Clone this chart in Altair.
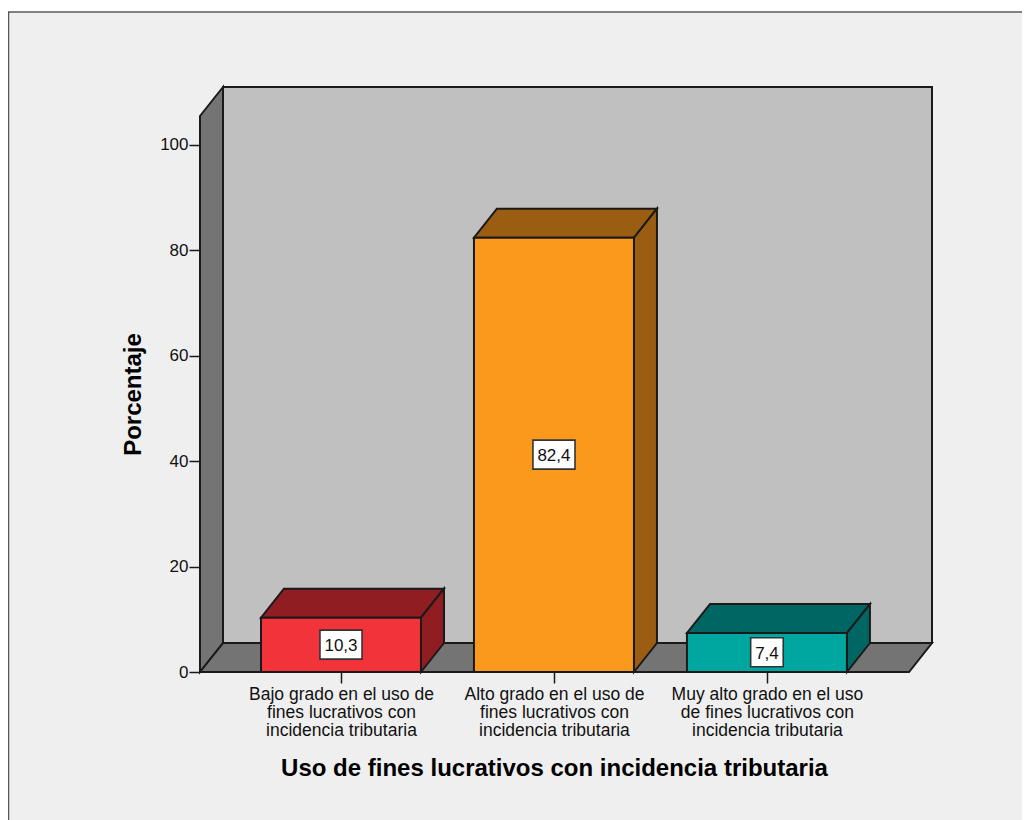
import json
import altair as alt
import pandas as pd

# --- chart values ---
categories = [
    "Bajo grado en el uso de|fines lucrativos con|incidencia tributaria",
    "Alto grado en el uso de|fines lucrativos con|incidencia tributaria",
    "Muy alto grado en el uso|de fines lucrativos con|incidencia tributaria",
]
positions = [1, 2, 3]
values = [10.3, 82.4, 7.4]
value_labels = ["10,3", "82,4", "7,4"]
front_colors = ["#f2343a", "#fb991c", "#00a6a0"]
dark_colors = ["#8f1d21", "#9a5d11", "#006664"]
y_ticks = [0, 20, 40, 60, 80, 100]

# --- 3D geometry, in data units ---
X_MIN, X_MAX = 0.338, 3.775
Y_MAX = 111.0
DEPTH_X, DEPTH_Y = 0.108, 5.5
HALF_BAR = 0.3756
WALL_TOP = Y_MAX - DEPTH_Y
FLOOR_RIGHT = X_MAX - DEPTH_X
LINE = "#1a1a1a"
LW = 2
FONT = "Liberation Sans"

x_scale = alt.Scale(domain=[X_MIN, X_MAX], nice=False, zero=False)
y_scale = alt.Scale(domain=[0, Y_MAX], nice=False, zero=False)

label_js = json.dumps(categories)
x_axis = alt.Axis(
    values=positions, grid=False, domain=False, tickColor=LINE, tickWidth=1.5, tickSize=11,
    labelExpr=f"split({label_js}[datum.value-1],'|')", labelFont=FONT, labelFontSize=17.5,
    labelColor="#111", labelLineHeight=18, labelPadding=2, labelAngle=0, labelBaseline="top",
    labelLimit=400, labelOverlap=False, labelFlush=False,
    title="Uso de fines lucrativos con incidencia tributaria", titleFont=FONT, titleFontSize=24,
    titleFontWeight="bold", titleColor="#000", titleX=354, titleY=96, titleAnchor="middle",
    titleBaseline="middle",
)
y_axis = alt.Axis(
    values=y_ticks, grid=False, domain=False, tickColor=LINE, tickWidth=1.5, tickSize=11,
    labelFont=FONT, labelFontSize=17, labelColor="#111", labelPadding=1,
    title="Porcentaje", titleFont=FONT, titleFontSize=24, titleFontWeight="bold",
    titleColor="#000", titleX=-67, titleY=307, titleAnchor="middle", titleBaseline="middle",
)
X = lambda f="x": alt.X(f"{f}:Q", scale=x_scale, axis=x_axis)
Y = lambda f="y": alt.Y(f"{f}:Q", scale=y_scale, axis=y_axis)

# page backdrop
page_top = alt.Chart().mark_rect(fill="white").encode(
    x=alt.value(-200), x2=alt.value(840), y=alt.value(-80), y2=alt.value(-75))
border_top = alt.Chart().mark_rule(stroke="#808080", strokeWidth=2).encode(
    x=alt.value(-192), x2=alt.value(840), y=alt.value(-75))
border_left = alt.Chart().mark_rule(stroke="#555555", strokeWidth=1.5).encode(
    x=alt.value(-191.5), y=alt.value(-75), y2=alt.value(740))

# back wall
back = alt.Chart(pd.DataFrame({"x": [X_MIN + DEPTH_X], "x2": [X_MAX], "y": [DEPTH_Y], "y2": [Y_MAX]})).mark_rect(
    fill="#c0c0c0", stroke=LINE, strokeWidth=LW
).encode(x=X(), x2="x2:Q", y=Y(), y2="y2:Q")

# left wall
left = alt.Chart(pd.DataFrame({"x": [X_MIN, X_MIN + DEPTH_X], "y": [0, DEPTH_Y], "y2": [WALL_TOP, Y_MAX]})).mark_area(
    fill="#747474", stroke=LINE, strokeWidth=LW, opacity=1
).encode(x=X(), y=Y(), y2="y2:Q")

# floor
floor = alt.Chart(pd.DataFrame({"y": [0, DEPTH_Y], "x": [X_MIN, X_MIN + DEPTH_X],
                                "x2": [FLOOR_RIGHT, X_MAX]})).mark_area(
    fill="#747474", stroke=LINE, strokeWidth=LW, orient="horizontal", opacity=1
).encode(y=Y(), x=X(), x2="x2:Q")

# bars: front, top and side faces
front_rows, top_rows, side_rows, box_rows = [], [], [], []
for p, v, t, fc, dc in zip(positions, values, value_labels, front_colors, dark_colors):
    front_rows.append(dict(x=p - HALF_BAR, x2=p + HALF_BAR, y=0, y2=v, c=fc))
    top_rows += [dict(k=p, y=v, x=p - HALF_BAR, x2=p + HALF_BAR, c=dc),
                 dict(k=p, y=v + DEPTH_Y, x=p - HALF_BAR + DEPTH_X, x2=p + HALF_BAR + DEPTH_X, c=dc)]
    side_rows += [dict(k=p, x=p + HALF_BAR, y=0, y2=v, c=dc),
                  dict(k=p, x=p + HALF_BAR + DEPTH_X, y=DEPTH_Y, y2=v + DEPTH_Y, c=dc)]
    half_w = (len(t) * 9.5 + 1.5) / 213 / 2 + 0.006
    box_rows.append(dict(x=p - half_w, x2=p + half_w, y=v / 2 - 2.7, y2=v / 2 + 2.8, m=v / 2, p=p, t=t))

tops = alt.Chart(pd.DataFrame(top_rows)).mark_area(stroke=LINE, strokeWidth=LW, orient="horizontal", opacity=1).encode(
    y=Y(), x=X(), x2="x2:Q", fill=alt.Fill("c:N", scale=None), detail="k:N")
sides = alt.Chart(pd.DataFrame(side_rows)).mark_area(stroke=LINE, strokeWidth=LW, opacity=1).encode(
    x=X(), y=Y(), y2="y2:Q", fill=alt.Fill("c:N", scale=None), detail="k:N")
fronts = alt.Chart(pd.DataFrame(front_rows)).mark_rect(stroke=LINE, strokeWidth=LW).encode(
    x=X(), x2="x2:Q", y=Y(), y2="y2:Q", fill=alt.Fill("c:N", scale=None))

boxes = alt.Chart(pd.DataFrame(box_rows)).mark_rect(fill="white", stroke="#333", strokeWidth=1.6).encode(
    x=X(), x2="x2:Q", y=Y(), y2="y2:Q")
texts = alt.Chart(pd.DataFrame(box_rows)).mark_text(font=FONT, fontSize=17, color="#111", baseline="middle", align="center", dy=1.5).encode(
    x=X("p"), y=Y("m"), text="t:N")

chart = alt.layer(page_top, border_top, border_left, back, left, floor, tops, sides, fronts, boxes, texts).properties(
    width=732, height=585,
    padding={"left": 192, "top": 79, "right": 90, "bottom": 148},
    autosize=alt.AutoSizeParams(type="none"),
    background="#efefef",
).configure_view(stroke=None)

chart.save("out.html", embed_options={"renderer": "svg", "actions": False})
